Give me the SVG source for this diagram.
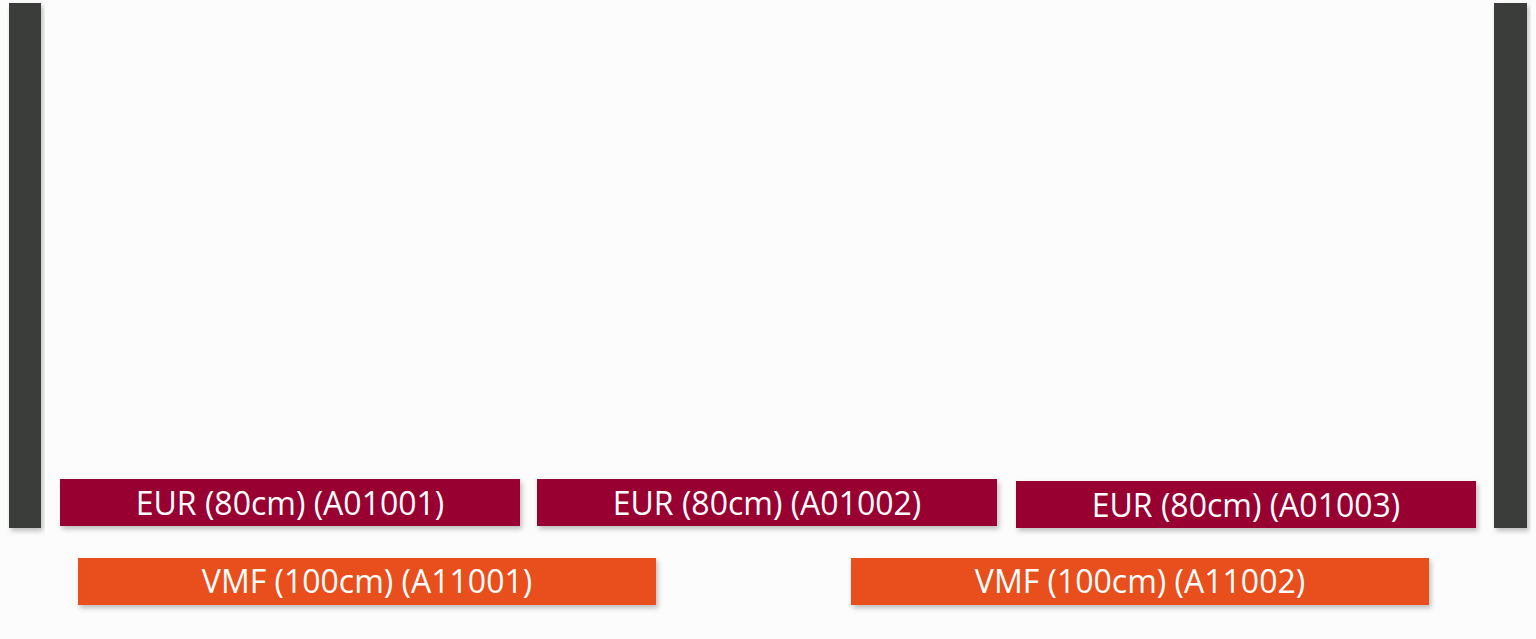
<svg xmlns="http://www.w3.org/2000/svg" width="1536" height="639" viewBox="0 0 1536 639">
<defs>
<filter id="sh" x="-5%" y="-10%" width="115%" height="140%">
<feDropShadow dx="2" dy="3" stdDeviation="2.5" flood-color="#000" flood-opacity="0.25"/>
</filter>
<style>
.post{fill:#3b3d3b;filter:url(#sh)}
.eur{fill:#990033;filter:url(#sh)}
.vmf{fill:#e8501c;filter:url(#sh)}
.lbl{fill:#fff;font-family:"Open Sans","Liberation Sans",sans-serif;font-size:32px;text-anchor:middle}
</style>
</defs>
<rect x="0" y="0" width="1536" height="639" fill="#fcfcfc"/>
<g id="post-left"><rect class="post" x="9" y="3" width="32" height="525"/></g>
<g id="post-right"><rect class="post" x="1494" y="3" width="33" height="525"/></g>
<g id="eur1"><rect class="eur" x="60" y="479" width="460" height="47"/><text class="lbl" x="290" y="515">EUR (80cm) (A01001)</text></g>
<g id="eur2"><rect class="eur" x="537" y="479" width="460" height="47"/><text class="lbl" x="767" y="515">EUR (80cm) (A01002)</text></g>
<g id="eur3"><rect class="eur" x="1016" y="481" width="460" height="47"/><text class="lbl" x="1246" y="517">EUR (80cm) (A01003)</text></g>
<g id="vmf1"><rect class="vmf" x="78" y="558" width="578" height="47"/><text class="lbl" x="367" y="593">VMF (100cm) (A11001)</text></g>
<g id="vmf2"><rect class="vmf" x="851" y="558" width="578" height="47"/><text class="lbl" x="1140" y="593">VMF (100cm) (A11002)</text></g>
<g id="connectors"/>
</svg>
